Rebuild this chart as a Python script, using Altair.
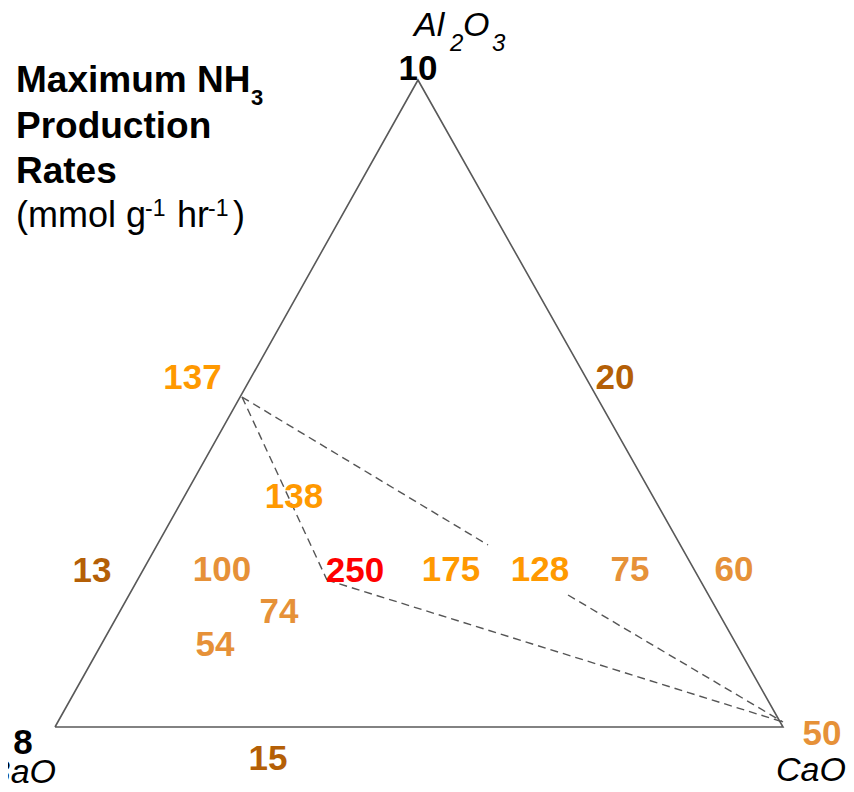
import altair as alt
import pandas as pd

# Coordinates: x = % across the BaO-CaO base, y = % of triangle height
vert_name = ["BaO", "CaO", "Al2O3", "BaO"]
vert_x = [0, 100, 49.86, 0]
vert_y = [0, 0, 100, 0]
vert_order = [0, 1, 2, 3]

# dashed tie lines
seg_x1 = [25.69, 70.47, 25.69, 37.36]
seg_y1 = [51.00, 20.40, 51.00, 22.72]
seg_x2 = [59.48, 100.0, 37.36, 100.0]
seg_y2 = [28.13, 0.77, 22.72, 0.77]

# maximum NH3 production rate labels
rate_text = ["137", "138", "13", "100", "250", "175", "128", "75", "60",
             "74", "54", "20", "15", "50", "10", "8"]
rate_x = [18.89, 32.83, 5.08, 22.94, 41.21, 54.40, 66.62, 78.98, 93.27,
          30.77, 21.98, 76.92, 29.26, 105.36, 49.86, -4.40]
rate_y = [54.25, 35.86, 24.42, 24.57, 24.42, 24.57, 24.57, 24.57, 24.57,
          18.08, 12.98, 54.25, -4.64, -0.77, 102.01, -2.16]
rate_tier = ["high", "high", "low", "mid", "top", "high", "high", "mid", "mid",
             "mid", "mid", "low", "low", "mid", "base", "base"]
tier_names = ["top", "high", "mid", "low", "base"]
tier_colors = ["#FF0000", "#FF9900", "#E69138", "#B45F06", "#000000"]

# title pieces
title_bold = ["Maximum NH", "Production", "Rates"]
title_bold_x = [-5.36, -5.36, -5.36]
title_bold_y = [98.15, 91.04, 84.08]
title_sub = ["3"]
title_sub_x = [26.92]
title_sub_y = [96.14]
unit_text = ["(mmol g", "hr", ")"]
unit_x = [-5.36, 16.76, 24.45]
unit_y = [77.28, 77.28, 77.28]
unit_sup = ["-1", "-1"]
unit_sup_x = [12.36, 21.02]
unit_sup_y = [78.98, 78.98]

# vertex (component) labels
comp_big = ["Al", "O"]
comp_big_x = [49.31, 56.04]
comp_big_y = [106.8, 106.8]
comp_small = ["2", "3"]
comp_small_x = [54.26, 60.03]
comp_small_y = [104.5, 104.5]
corner_text = ["CaO", "BaO"]
corner_x = [99.04, 0.14]
corner_y = [-8.35, -8.66]

XS = alt.Scale(domain=[-6.456, 108.654], nice=False, zero=False)
YS = alt.Scale(domain=[-8.810, 111.128], nice=False, zero=False)
FONT = "Liberation Sans"


def xy(xf="x", yf="y"):
    return dict(x=alt.X(f"{xf}:Q", scale=XS, axis=None),
                y=alt.Y(f"{yf}:Q", scale=YS, axis=None))


tri = alt.Chart(pd.DataFrame({"n": vert_name, "x": vert_x, "y": vert_y, "o": vert_order})).mark_line(
    color="#595959", strokeWidth=1.6).encode(order="o:Q", **xy())

segs = alt.Chart(pd.DataFrame({"x": seg_x1, "y": seg_y1, "x2": seg_x2, "y2": seg_y2})).mark_rule(
    color="#555555", strokeWidth=1.4, strokeDash=[8, 5]).encode(
    x2="x2:Q", y2="y2:Q", **xy())

rates = alt.Chart(pd.DataFrame({"t": rate_text, "x": rate_x, "y": rate_y, "tier": rate_tier})).mark_text(
    font=FONT, fontSize=35, fontWeight="bold", align="center", baseline="middle", dy=2).encode(
    text="t:N",
    color=alt.Color("tier:N", scale=alt.Scale(domain=tier_names, range=tier_colors), legend=None),
    **xy())


def txt(texts, xs, ys, size, weight="normal", style="normal", align="left"):
    return alt.Chart(pd.DataFrame({"t": texts, "x": xs, "y": ys})).mark_text(
        font=FONT, fontSize=size, fontWeight=weight, fontStyle=style, align=align,
        baseline="alphabetic", color="#000000").encode(text="t:N", **xy())


t1 = txt(title_bold, title_bold_x, title_bold_y, 37, weight="bold")
t2 = txt(title_sub, title_sub_x, title_sub_y, 22, weight="bold")
t3 = txt(unit_text, unit_x, unit_y, 36)
t4 = txt(unit_sup, unit_sup_x, unit_sup_y, 23)
c1 = txt(comp_big, comp_big_x, comp_big_y, 34, style="italic")
c2 = txt(comp_small, comp_small_x, comp_small_y, 24, style="italic")
c3 = txt(corner_text[:1], corner_x[:1], corner_y[:1], 34, style="italic", align="left")
c4 = txt(corner_text[1:], corner_x[1:], corner_y[1:], 34, style="italic", align="right")

chart = alt.layer(tri, segs, rates, t1, t2, t3, t4, c1, c2, c3, c4).properties(
    width=838, height=776, padding=0,
    autosize=alt.AutoSizeParams(type="none"),
).configure_view(stroke=None)

chart.save("out.html", embed_options={"renderer": "svg", "actions": False})
